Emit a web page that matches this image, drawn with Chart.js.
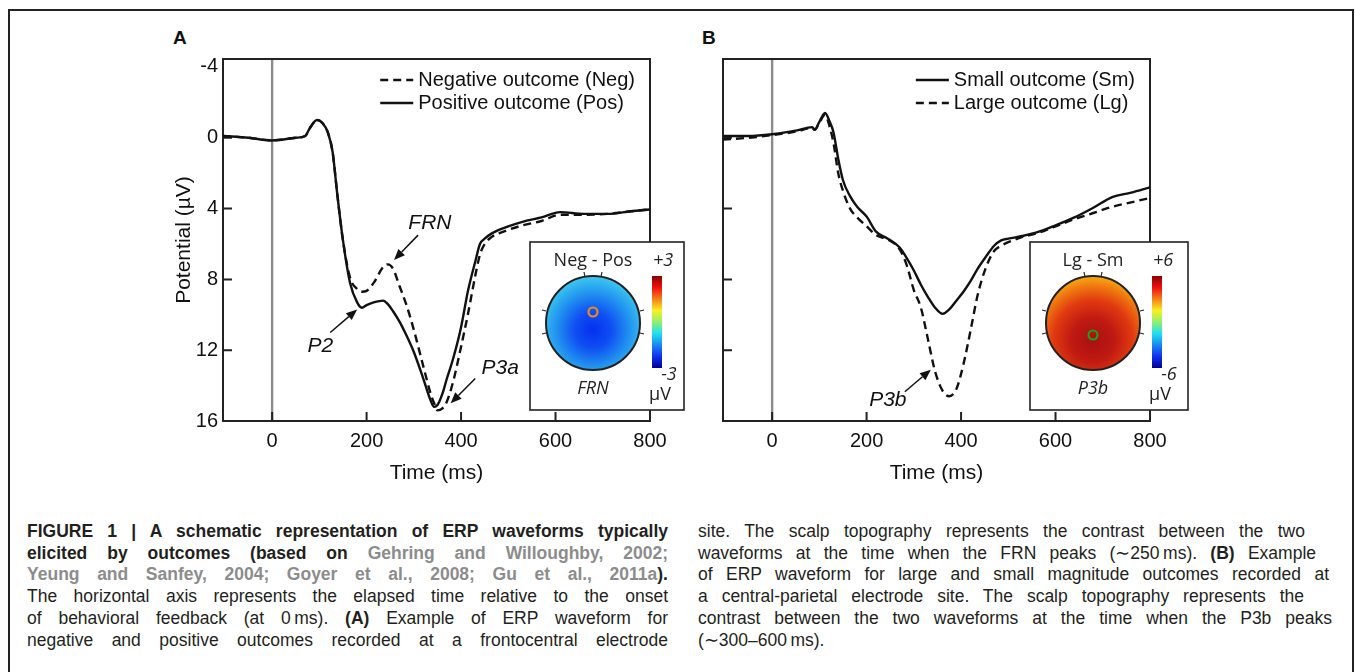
<!DOCTYPE html>
<html>
<head>
<meta charset="utf-8">
<title>ERP waveforms</title>
<script src="https://cdn.jsdelivr.net/npm/chart.js@4.4.1/dist/chart.umd.min.js"></script>
<style>
  html, body { margin: 0; padding: 0; background: #fff; }
  body { width: 1355px; height: 672px; position: relative; overflow: hidden;
         font-family: "Liberation Sans", Arial, sans-serif; color: #111; }
  #frame { position: absolute; left: 8px; top: 9px; width: 1346px; height: 700px;
           border: 2px solid #222; border-bottom: none; box-sizing: border-box; }
  .panel-label { position: absolute; top: 27px; font-weight: bold; font-size: 19px; }
  .wrap { position: absolute; top: 20px; width: 530px; height: 470px; }
  .cap { position: absolute; font-size: 17.5px; line-height: 21.7px; color: #231f20; }
  .cap div { text-align: justify; text-align-last: justify; }
  .cap div.last { text-align-last: left; }
  .cite { color: #8c8c8c; }
</style>
</head>
<body>
<div id="frame"></div>
<div class="panel-label" style="left:173px">A</div>
<div class="panel-label" style="left:702px">B</div>
<div class="wrap" style="left:160px"><canvas id="chartA" width="530" height="470"></canvas></div>
<div class="wrap" style="left:660px"><canvas id="chartB" width="530" height="470"></canvas></div>

<div class="cap" style="left:27px; top:521px; width:641px;">
  <div><b>FIGURE 1 | A schematic representation of ERP waveforms typically</b></div>
  <div><b>elicited by outcomes (based on <span class="cite">Gehring and Willoughby, 2002;</span></b></div>
  <div><b><span class="cite">Yeung and Sanfey, 2004; Goyer et al., 2008; Gu et al., 2011a</span>).</b></div>
  <div>The horizontal axis represents the elapsed time relative to the onset</div>
  <div>of behavioral feedback (at 0&#8201;ms). <b>(A)</b> Example of ERP waveform for</div>
  <div>negative and positive outcomes recorded at a frontocentral electrode</div>
</div>
<div class="cap" style="left:698px; top:521px; width:636px;">
  <div style="width:607px">site. The scalp topography represents the contrast between the two</div>
  <div style="width:618px">waveforms at the time when the FRN peaks (∼250&#8201;ms). <b>(B)</b> Example</div>
  <div style="width:631px">of ERP waveform for large and small magnitude outcomes recorded at</div>
  <div style="width:606px">a central-parietal electrode site. The scalp topography represents the</div>
  <div style="width:634px">contrast between the two waveforms at the time when the P3b peaks</div>
  <div class="last">(∼300–600&#8201;ms).</div>
</div>

<script>
// ------------------------------------------------------------
// Data: time (ms) and potential (µV)
// ------------------------------------------------------------
const timeA = [-104, -50, 0, 50, 70, 80, 95, 106, 118, 128, 138, 150, 165, 180, 190,
               200, 215, 235, 245, 256, 270, 285, 300, 320, 335, 343, 350, 360, 370, 383,
               400, 415, 430, 440, 450, 465, 480, 500, 530, 570, 610, 660, 710, 760, 800];
const negA  = [-0.1, 0.0, 0.15, 0.0, -0.1, -0.55, -1.0, -0.85, -0.3, 0.8, 3.2, 5.8, 7.9, 8.55, 8.7,
               8.65, 8.2, 7.3, 7.15, 7.4, 8.4, 9.5, 10.85, 12.9, 14.4, 15.0, 15.4, 15.3, 14.9, 13.8,
               11.8, 9.9, 7.8, 6.6, 6.0, 5.6, 5.4, 5.2, 4.95, 4.7, 4.35, 4.35, 4.3, 4.15, 4.05];
const posA  = [-0.1, 0.0, 0.15, 0.0, -0.1, -0.55, -1.0, -0.85, -0.3, 0.8, 3.2, 5.8, 8.2, 9.3, 9.6,
               9.45, 9.3, 9.2, 9.4, 9.8, 10.4, 11.2, 12.1, 13.6, 14.8, 15.2, 15.1, 14.5, 13.6, 12.5,
               10.7, 8.6, 7.0, 6.0, 5.7, 5.4, 5.2, 5.0, 4.75, 4.5, 4.2, 4.3, 4.3, 4.15, 4.05];

const timeB = [-104, -50, 0, 50, 85, 90, 100, 112, 122, 130, 140, 150, 165, 180, 200,
               220, 245, 270, 285, 300, 315, 330, 345, 361, 375, 390, 405, 420, 435, 453,
               470, 485, 500, 530, 560, 600, 640, 680, 720, 760, 800];
const smB   = [-0.1, -0.1, -0.2, -0.4, -0.6, -0.45, -0.9, -1.4, -0.9, -0.3, 1.2, 2.4, 3.3, 3.9, 4.45,
               5.3, 5.7, 6.2, 6.8, 7.5, 8.3, 9.0, 9.6, 9.95, 9.7, 9.2, 8.7, 8.1, 7.4, 6.7,
               6.1, 5.8, 5.7, 5.55, 5.35, 4.95, 4.5, 3.95, 3.35, 3.1, 2.8];
const lgB   = [0.1, 0.0, -0.15, -0.35, -0.55, -0.45, -0.85, -1.3, -0.6, 0.3, 2.0, 3.0, 4.0, 4.5, 5.0,
               5.5, 5.75, 6.3, 7.2, 8.6, 9.6, 11.4, 13.2, 14.3, 14.6, 14.2, 12.8, 10.9, 8.9, 7.3,
               6.4, 6.1, 5.9, 5.6, 5.4, 5.0, 4.6, 4.25, 3.9, 3.65, 3.4];

const xTickValues = [0, 200, 400, 600, 800];
const yTickValues = [-4, 0, 4, 8, 12, 16];
const xInnerTicks = [0, 200, 400, 600];
const yInnerTicks = [0, 4, 8, 12];

// component labels with arrows: [text, labelX, labelY, tailX, tailY, tipX, tipY]
const notesA = [
  ['FRN', 334, 4.8, 309, 5.5, 258, 6.9],
  ['P2', 102, 11.8, 123, 11.0, 180, 9.7],
  ['P3a', 483, 13.0, 430, 13.6, 378, 15.0]
];
const notesB = [
  ['P3b', 245, 14.8, 281, 14.35, 336, 13.1]
];

// scalp map insets
const insetA = { title: 'Neg - Pos', comp: 'FRN', top: '+3', bottom: '-3', ring: '#f08a1c',
                 ringDy: 70, gradDy: 88, gradR: 60,
                 stops: [[0, '#0530f0'], [0.3, '#0f4ef2'], [0.6, '#2090f0'], [0.85, '#38c0f0'], [1, '#50e0f0']] };
const insetB = { title: 'Lg - Sm', comp: 'P3b', top: '+6', bottom: '-6', ring: '#1aa31a',
                 ringDy: 93, gradDy: 98, gradR: 72,
                 stops: [[0, '#a81010'], [0.3, '#c01a12'], [0.55, '#e03a10'], [0.75, '#f07810'], [0.9, '#f8b010'], [1, '#fcd800']] };

const FONT = '"Liberation Sans", Arial, sans-serif';
const INSET_FONT = '"Open Sans", "Noto Sans", sans-serif';

function points(t, v) { return t.map((x, i) => ({ x: x, y: v[i] })); }

function arrow(ctx, x0, y0, x1, y1) {
  const a = Math.atan2(y1 - y0, x1 - x0);
  const hl = 11, hw = 4.5;
  const bx = x1 - hl * Math.cos(a), by = y1 - hl * Math.sin(a);
  ctx.beginPath();
  ctx.moveTo(x0, y0);
  ctx.lineTo(bx, by);
  ctx.stroke();
  ctx.beginPath();
  ctx.moveTo(x1, y1);
  ctx.lineTo(bx + hw * Math.sin(a), by - hw * Math.cos(a));
  ctx.lineTo(bx - hw * Math.sin(a), by + hw * Math.cos(a));
  ctx.closePath();
  ctx.fill();
}

function drawInset(ctx, box, cfg) {
  ctx.save();
  ctx.fillStyle = '#fff';
  ctx.fillRect(box.x, box.y, box.w, box.h);
  ctx.strokeStyle = '#222';
  ctx.lineWidth = 1.6;
  ctx.strokeRect(box.x, box.y, box.w, box.h);

  ctx.fillStyle = '#222';
  ctx.textAlign = 'center';
  ctx.textBaseline = 'middle';
  ctx.font = '18px ' + INSET_FONT;
  ctx.fillText(cfg.title, box.x + 63, box.y + 19);
  ctx.font = 'italic 18px ' + INSET_FONT;
  ctx.fillText(cfg.comp, box.x + 63, box.y + 147);

  // head
  const cx = box.x + 63, cy = box.y + 81, r = 47;
  const g = ctx.createRadialGradient(cx, box.y + cfg.gradDy, 0, cx, box.y + cfg.gradDy, cfg.gradR);
  cfg.stops.forEach(s => g.addColorStop(s[0], s[1]));
  ctx.fillStyle = g;
  ctx.beginPath();
  ctx.arc(cx, cy, r, 0, Math.PI * 2);
  ctx.fill();
  ctx.lineWidth = 2;
  ctx.stroke();
  // nose and ear marks
  ctx.lineWidth = 1.2;
  ctx.beginPath();
  [-1, 1].forEach(s => {
    ctx.moveTo(cx + s * 8, cy - r + 1); ctx.lineTo(cx + s * 9, cy - r - 4);
    ctx.moveTo(cx + s * r, cy - 12); ctx.lineTo(cx + s * (r + 4), cy - 13);
    ctx.moveTo(cx + s * r, cy + 10); ctx.lineTo(cx + s * (r + 4), cy + 11);
  });
  ctx.stroke();
  // electrode
  ctx.strokeStyle = cfg.ring;
  ctx.lineWidth = 2.2;
  ctx.beginPath();
  ctx.arc(cx, box.y + cfg.ringDy, 4.5, 0, Math.PI * 2);
  ctx.stroke();

  // colour bar
  const bx = box.x + 122, by = box.y + 34, bw = 10, bh = 92;
  const lg = ctx.createLinearGradient(0, by, 0, by + bh);
  [[0, '#8a0000'], [0.125, '#f01010'], [0.375, '#f8f020'], [0.5, '#90f070'],
   [0.625, '#20e0f0'], [0.875, '#1030f0'], [1, '#000090']].forEach(s => lg.addColorStop(s[0], s[1]));
  ctx.fillStyle = lg;
  ctx.fillRect(bx, by, bw, bh);

  ctx.fillStyle = '#222';
  ctx.font = 'italic 18px ' + INSET_FONT;
  ctx.fillText(cfg.top, box.x + 133, box.y + 19);
  ctx.fillText(cfg.bottom, box.x + 139, box.y + 133);
  ctx.font = '18px ' + INSET_FONT;
  ctx.fillText('µV', box.x + 130, box.y + 153);
  ctx.restore();
}

const decor = {
  id: 'decor',
  beforeDatasetsDraw(chart, args, opts) {
    const { ctx, chartArea: a, scales: { x, y } } = chart;
    ctx.save();
    // onset line at 0 ms
    const x0 = x.getPixelForValue(0);
    ctx.strokeStyle = '#8c8c8c';
    ctx.lineWidth = 2.4;
    ctx.beginPath();
    ctx.moveTo(x0, a.top);
    ctx.lineTo(x0, a.bottom);
    ctx.stroke();
    // frame and inward ticks
    ctx.strokeStyle = '#222';
    ctx.lineWidth = 2;
    ctx.strokeRect(a.left, a.top, a.right - a.left, a.bottom - a.top);
    ctx.beginPath();
    yInnerTicks.forEach(v => {
      const py = y.getPixelForValue(v);
      ctx.moveTo(a.left, py);
      ctx.lineTo(a.left + 9, py);
    });
    xInnerTicks.forEach(v => {
      const px = x.getPixelForValue(v);
      ctx.moveTo(px, a.bottom);
      ctx.lineTo(px, a.bottom - 9);
    });
    ctx.stroke();
    ctx.restore();
  },
  afterDatasetsDraw(chart, args, opts) {
    const { ctx, chartArea: a, scales: { x, y } } = chart;
    ctx.save();
    // legend, top right inside the frame
    ctx.font = '20px ' + FONT;
    ctx.textBaseline = 'middle';
    ctx.fillStyle = '#111';
    ctx.strokeStyle = '#111';
    ctx.lineWidth = 2.4;
    const ds = chart.data.datasets;
    const maxW = Math.max(...ds.map(d => ctx.measureText(d.label).width));
    const tx = a.right - 15 - maxW;
    ds.forEach((d, i) => {
      const ly = a.top + 21 + i * 23;
      ctx.setLineDash(d.borderDash || []);
      ctx.beginPath();
      ctx.moveTo(tx - 38, ly);
      ctx.lineTo(tx - 5, ly);
      ctx.stroke();
      ctx.setLineDash([]);
      ctx.fillText(d.label, tx, ly);
    });
    // component labels with arrows
    ctx.font = 'italic 21px ' + FONT;
    ctx.textAlign = 'center';
    ctx.lineWidth = 1.5;
    opts.notes.forEach(n => {
      ctx.fillText(n[0], x.getPixelForValue(n[1]), y.getPixelForValue(n[2]));
      arrow(ctx, x.getPixelForValue(n[3]), y.getPixelForValue(n[4]),
                 x.getPixelForValue(n[5]), y.getPixelForValue(n[6]));
    });
    ctx.restore();
    drawInset(ctx, { x: a.right - 120, y: a.bottom - 179, w: opts.insetW, h: 168 }, opts.inset);
  }
};

function makeChart(id, sets, showY, notes, inset, insetW) {
  return new Chart(document.getElementById(id), {
    type: 'line',
    data: {
      datasets: sets.map(s => ({
        label: s.label,
        data: s.data,
        borderColor: '#111',
        borderWidth: 2.4,
        borderDash: s.dash,
        pointRadius: 0,
        fill: false,
        cubicInterpolationMode: 'monotone'
      }))
    },
    options: {
      responsive: false,
      animation: false,
      layout: { padding: { top: 39, right: 40, left: 0, bottom: 0 } },
      plugins: {
        legend: { display: false },
        tooltip: { enabled: false },
        decor: { notes: notes, inset: inset, insetW: insetW }
      },
      scales: {
        x: {
          type: 'linear', min: -104, max: 800,
          grid: { display: false, drawTicks: false },
          border: { display: false },
          ticks: { padding: 8, color: '#111', font: { family: FONT, size: 20 }, autoSkip: false, maxRotation: 0 },
          afterBuildTicks: s => { s.ticks = xTickValues.map(v => ({ value: v })); },
          afterFit: s => { s.height = 69; },
          title: { display: true, text: 'Time (ms)', color: '#111',
                   font: { family: FONT, size: 21 }, padding: { top: 0, bottom: 4 } }
        },
        y: {
          type: 'linear', reverse: true, min: -4.45, max: 16,
          grid: { display: false, drawTicks: false },
          border: { display: false },
          ticks: { display: showY, padding: 5, color: '#111', font: { family: FONT, size: 20 }, autoSkip: false },
          afterBuildTicks: s => { s.ticks = yTickValues.map(v => ({ value: v })); },
          afterFit: s => { s.width = 63; },
          title: { display: showY, text: 'Potential (µV)', color: '#111',
                   font: { family: FONT, size: 21 }, padding: { top: 12, bottom: 0 } }
        }
      }
    },
    plugins: [decor]
  });
}

makeChart('chartA', [
  { label: 'Negative outcome (Neg)', data: points(timeA, negA), dash: [8, 5] },
  { label: 'Positive outcome (Pos)', data: points(timeA, posA), dash: [] }
], true, notesA, insetA, 154);

makeChart('chartB', [
  { label: 'Small outcome (Sm)', data: points(timeB, smB), dash: [] },
  { label: 'Large outcome (Lg)', data: points(timeB, lgB), dash: [8, 5] }
], false, notesB, insetB, 158);
</script>
</body>
</html>
